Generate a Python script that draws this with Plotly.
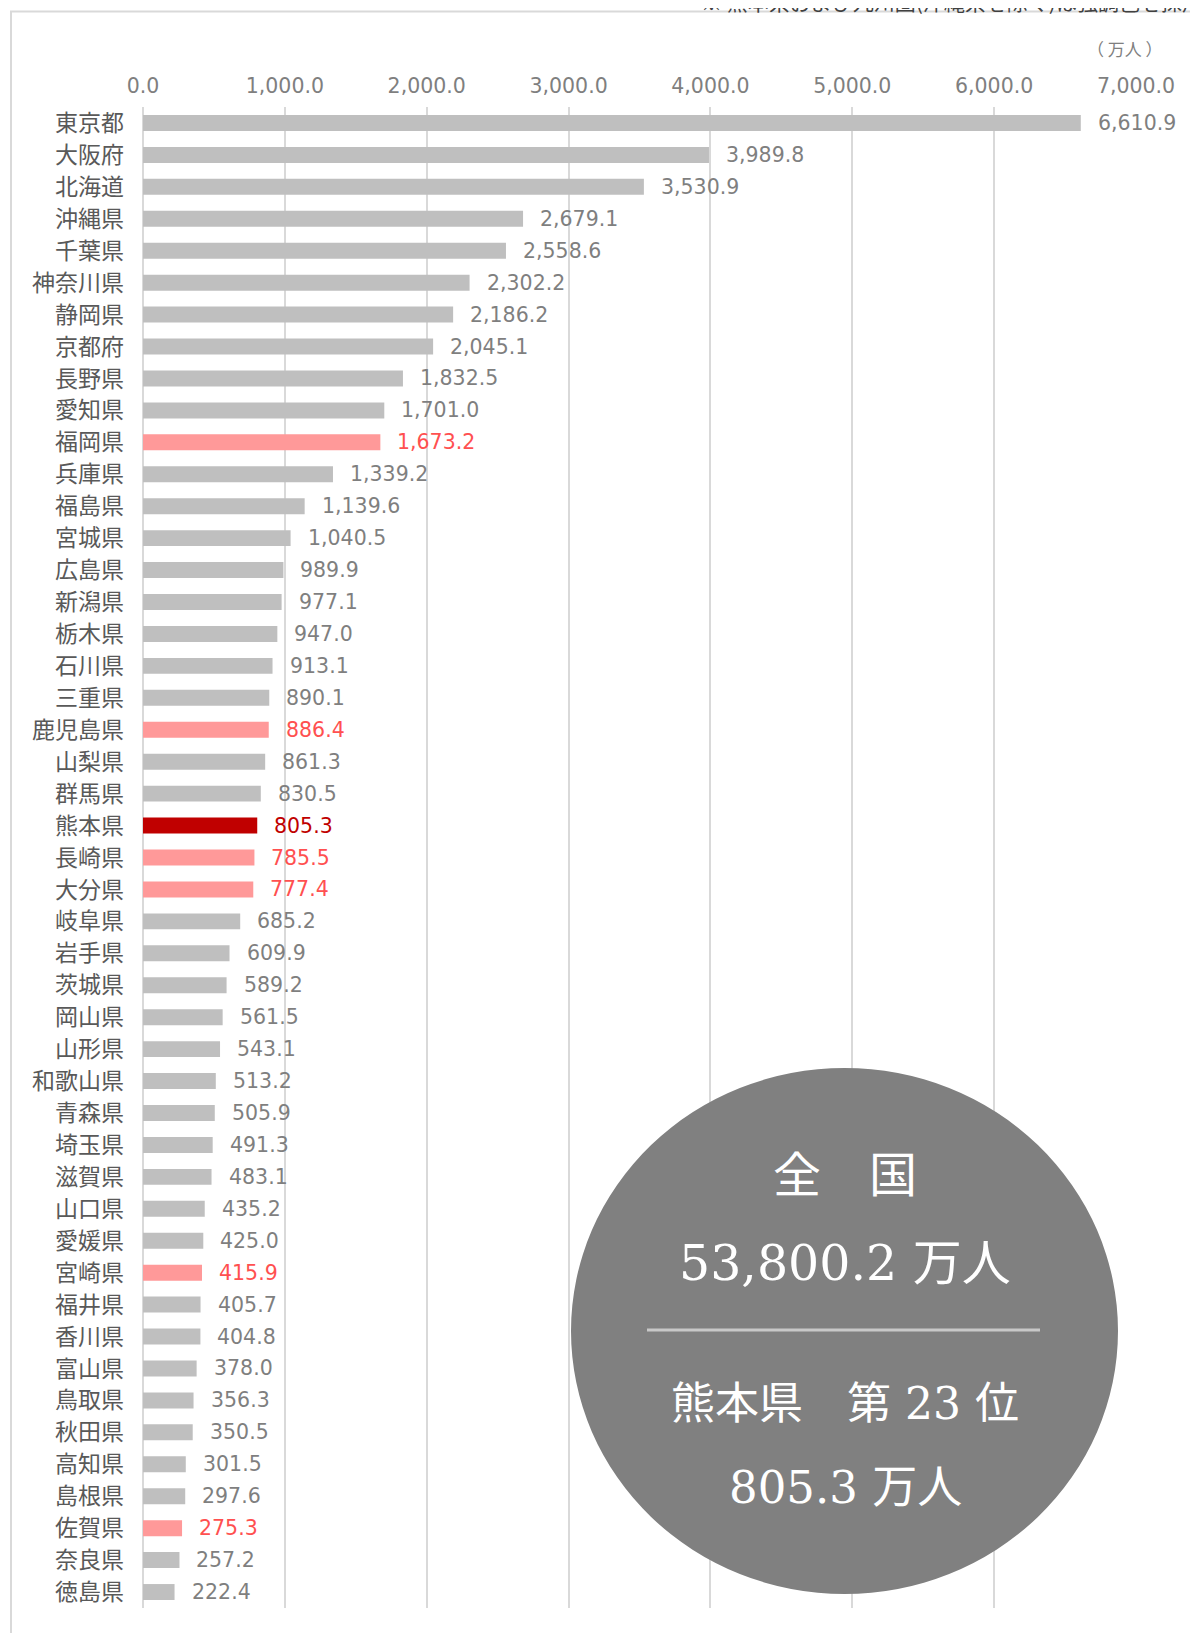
import plotly.graph_objects as go

prefectures = ["東京都","大阪府","北海道","沖縄県","千葉県","神奈川県","静岡県","京都府","長野県","愛知県",
               "福岡県","兵庫県","福島県","宮城県","広島県","新潟県","栃木県","石川県","三重県","鹿児島県",
               "山梨県","群馬県","熊本県","長崎県","大分県","岐阜県","岩手県","茨城県","岡山県","山形県",
               "和歌山県","青森県","埼玉県","滋賀県","山口県","愛媛県","宮崎県","福井県","香川県","富山県",
               "鳥取県","秋田県","高知県","島根県","佐賀県","奈良県","徳島県"]
values = [6610.9,3989.8,3530.9,2679.1,2558.6,2302.2,2186.2,2045.1,1832.5,1701.0,
          1673.2,1339.2,1139.6,1040.5,989.9,977.1,947.0,913.1,890.1,886.4,
          861.3,830.5,805.3,785.5,777.4,685.2,609.9,589.2,561.5,543.1,
          513.2,505.9,491.3,483.1,435.2,425.0,415.9,405.7,404.8,378.0,
          356.3,350.5,301.5,297.6,275.3,257.2,222.4]
kyushu = ["福岡県","鹿児島県","長崎県","大分県","宮崎県","佐賀県"]
focus = "熊本県"
x_ticks = [0, 1000, 2000, 3000, 4000, 5000, 6000, 7000]
unit_label = "（ 万人 ）"
note_text = "※ 熊本県および九州圏(沖縄県を除く)は強調色を採用"
circle_lines = ["全　国", "53,800.2 万人", "熊本県　第 23 位", "805.3 万人"]

def bar_color(p):
    if p == focus:
        return "#c00000"
    if p in kyushu:
        return "#ff9999"
    return "#bfbfbf"

def text_color(p):
    if p == focus:
        return "#c00000"
    if p in kyushu:
        return "#ff5050"
    return "#7f7f7f"

OFF = 8  # page body margin
W, H = 1198 - OFF, 1633 - OFF
# plot area in page pixels
PL, PR, PT, PB = 143, 1136, 107, 1608
L, R, T, B = PL - OFF, W - (PR - OFF), PT - OFF, H - (PB - OFF)
pw, ph = W - L - R, H - T - B

def px2x(px):
    return (px - PL) / pw

def py2y(py):
    return (PB - py) / ph

num_font = "DejaVu Sans, Noto Sans CJK JP"

fig = go.Figure()
fig.add_trace(go.Bar(
    x=values, y=prefectures, orientation="h",
    marker=dict(color=[bar_color(p) for p in prefectures], line=dict(width=0)),
    width=0.5, hoverinfo="x+y",
))

annotations = []
for p, v in zip(prefectures, values):
    annotations.append(dict(
        x=v, y=p, xref="x", yref="y", text=f"{v:,.1f}", showarrow=False,
        xanchor="left", yanchor="middle", xshift=15,
        font=dict(family=num_font, size=20.5, color=text_color(p)),
    ))

annotations.append(dict(
    x=px2x(1125), y=py2y(49), xref="paper", yref="paper", text=unit_label, showarrow=False,
    xanchor="center", yanchor="middle",
    font=dict(family="Noto Sans CJK JP", size=17, color="#7f7f7f"),
))
annotations.append(dict(
    x=px2x(699), y=py2y(1), xref="paper", yref="paper", text=note_text, showarrow=False,
    xanchor="left", yanchor="middle",
    font=dict(family="Noto Sans CJK JP", size=21, color="#404040"),
))

circle_font = "DejaVu Serif, Noto Sans CJK JP"
for txt, py, sz in zip(circle_lines, [1175, 1263, 1403, 1487], [48, 49, 44, 45]):
    annotations.append(dict(
        x=px2x(845), y=py2y(py), xref="paper", yref="paper", text=txt, showarrow=False,
        xanchor="center", yanchor="middle",
        font=dict(family=circle_font, size=sz, color="#ffffff"),
    ))

shapes = [
    dict(type="rect", xref="paper", yref="paper",
         x0=px2x(11), x1=px2x(1260), y0=py2y(1700), y1=py2y(11.5),
         line=dict(color="#d9d9d9", width=2), fillcolor="rgba(0,0,0,0)", layer="below"),
    dict(type="circle", xref="paper", yref="paper",
         x0=px2x(571), x1=px2x(1118), y0=py2y(1594), y1=py2y(1068),
         fillcolor="#808080", line=dict(width=0), layer="above"),
    dict(type="line", xref="paper", yref="paper",
         x0=px2x(647), x1=px2x(1040), y0=py2y(1330), y1=py2y(1330),
         line=dict(color="#c8c8c8", width=3), layer="above"),
]

fig.update_layout(
    width=W, height=H,
    margin=dict(l=L, r=R, t=T, b=B, autoexpand=False),
    paper_bgcolor="#ffffff", plot_bgcolor="#ffffff",
    showlegend=False, bargap=0.5,
    annotations=annotations, shapes=shapes,
    xaxis=dict(
        side="top", range=[0, 7000], tickvals=x_ticks,
        ticktext=[f"{t:,.1f}" for t in x_ticks],
        showgrid=True, gridcolor="#d9d9d9", gridwidth=1.5,
        zeroline=True, zerolinecolor="#d9d9d9", zerolinewidth=1.5,
        showline=False, ticks="", ticklabelstandoff=9,
        tickfont=dict(family=num_font, size=20.5, color="#7f7f7f"),
        fixedrange=True,
    ),
    yaxis=dict(
        autorange="reversed", type="category",
        showgrid=False, zeroline=False, showline=False, ticks="",
        ticklabelstandoff=18,
        tickfont=dict(family="Noto Sans CJK JP", size=23, color="#595959"),
        fixedrange=True,
    ),
)

fig.write_html("out.html")
